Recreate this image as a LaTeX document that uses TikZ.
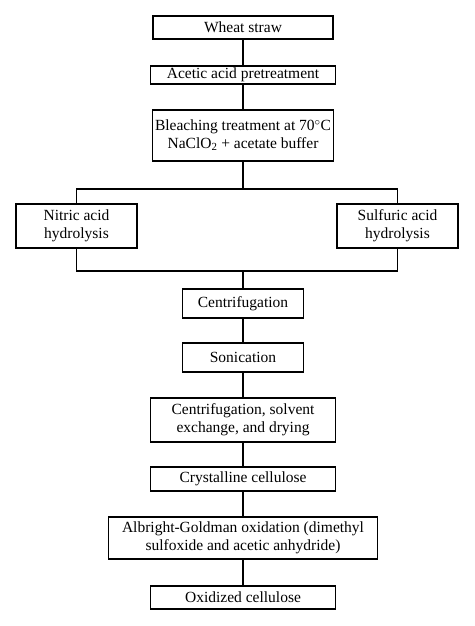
\documentclass[tikz,border=0pt]{standalone}
\usepackage{fontspec}
\setmainfont{Liberation Serif}
\usepackage{tikz}
\usetikzlibrary{positioning, calc}
\tikzset{
    stage/.style={
        draw=black,
        line width=1.2pt,
        align=center,
        inner sep=0pt,
        font=\fontsize{15.5}{18}\selectfont
    },
    link/.style={
        line width=1.2pt
    }
}
\begin{document}
\begin{tikzpicture}[x=1pt, y=-1pt]

      \useasboundingbox (0,0) rectangle (474,626);

      % main column
      \node[stage, minimum width=180pt, minimum height=23pt] (wheat) at (243,27.5) {Wheat straw};
      \node[stage, minimum width=185pt, minimum height=18pt] (acetic) at (243,75) {Acetic acid pretreatment};
      \node[stage, minimum width=181pt, minimum height=51pt] (bleach) at (243,135.5)
        {Bleaching treatment at 70$^{\circ}$C\\NaClO\textsubscript{2} + acetate buffer};

      % the two hydrolysis routes
      \node[stage, minimum width=121pt, minimum height=44pt] (nitric) at (76.5,226) {Nitric acid\\hydrolysis};
      \node[stage, minimum width=121pt, minimum height=44pt] (sulfuric) at (397.5,226) {Sulfuric acid\\hydrolysis};

      \node[stage, minimum width=121pt, minimum height=29pt] (centrif) at (243,303.5) {Centrifugation};
      \node[stage, minimum width=121pt, minimum height=29pt] (sonic) at (243,357.5) {Sonication};
      \node[stage, minimum width=185pt, minimum height=44pt] (exchange) at (243,420)
        {Centrifugation, solvent\\exchange, and drying};
      \node[stage, minimum width=185pt, minimum height=24pt] (crystal) at (243,479) {Crystalline cellulose};
      \node[stage, minimum width=269pt, minimum height=42pt] (albright) at (243,538)
        {Albright-Goldman oxidation (dimethyl\\sulfoxide and acetic anhydride)};
      \node[stage, minimum width=185pt, minimum height=23pt] (oxid) at (243,597.5) {Oxidized cellulose};

      \coordinate (split) at (243,189);
      \coordinate (join) at (243,271);

      \draw[link] (wheat)--(acetic)--(bleach)--(split);
      \draw[link] (nitric.north) |- (split) -| (sulfuric.north);
      \draw[link] (nitric.south) |- (join) -| (sulfuric.south);
      \draw[link] (join)--(centrif)--(sonic)--(exchange)--(crystal)--(albright)--(oxid);

\end{tikzpicture}
\end{document}
